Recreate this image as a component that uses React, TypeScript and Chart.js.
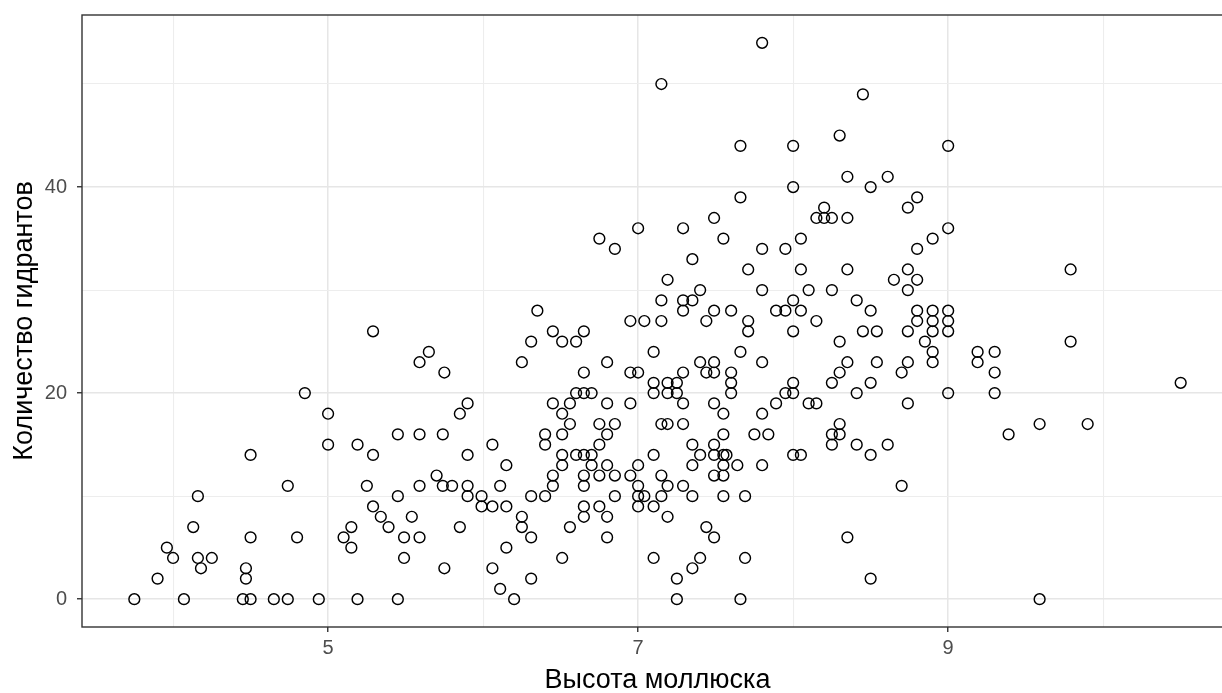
import React, { useEffect, useRef } from "react";
import { Chart, registerables } from "chart.js";

Chart.register(...registerables);

// Mollusc height (x) and number of hydranths (y)
const heights = [
  3.75, 3.9, 3.96, 4.0, 4.07, 4.13, 4.16, 4.16, 4.18, 4.25,
  4.45, 4.47, 4.47, 4.5, 4.5, 4.5, 4.65, 4.74, 4.74, 4.8,
  4.85, 4.94, 5.0, 5.0, 5.1, 5.15, 5.15, 5.19, 5.19, 5.25,
  5.29, 5.29, 5.29, 5.34, 5.39, 5.45, 5.45, 5.45, 5.49, 5.49,
  5.54, 5.59, 5.59, 5.59, 5.59, 5.65, 5.7, 5.74, 5.74, 5.75,
  5.75, 5.8, 5.85, 5.85, 5.9, 5.9, 5.9, 5.9, 5.99, 5.99,
  6.06, 6.06, 6.06, 6.11, 6.11, 6.15, 6.15, 6.15, 6.2, 6.25,
  6.25, 6.25, 6.31, 6.31, 6.31, 6.31, 6.35, 6.4, 6.4, 6.4,
  6.45, 6.45, 6.45, 6.45, 6.51, 6.51, 6.51, 6.51, 6.51, 6.51,
  6.56, 6.56, 6.56, 6.6, 6.6, 6.6, 6.65, 6.65, 6.65, 6.65,
  6.65, 6.65, 6.65, 6.65, 6.7, 6.7, 6.7, 6.75, 6.75, 6.75,
  6.75, 6.75, 6.8, 6.8, 6.8, 6.8, 6.8, 6.8, 6.85, 6.85,
  6.85, 6.85, 6.95, 6.95, 6.95, 6.95, 7.0, 7.0, 7.0, 7.0,
  7.0, 7.0, 7.04, 7.04, 7.1, 7.1, 7.1, 7.1, 7.1, 7.1,
  7.15, 7.15, 7.15, 7.15, 7.15, 7.15, 7.19, 7.19, 7.19, 7.19,
  7.19, 7.19, 7.25, 7.25, 7.25, 7.25, 7.29, 7.29, 7.29, 7.29,
  7.29, 7.29, 7.29, 7.35, 7.35, 7.35, 7.35, 7.35, 7.35, 7.4,
  7.4, 7.4, 7.4, 7.44, 7.44, 7.44, 7.49, 7.49, 7.49, 7.49,
  7.49, 7.49, 7.49, 7.49, 7.49, 7.55, 7.55, 7.55, 7.55, 7.57,
  7.55, 7.55, 7.55, 7.6, 7.6, 7.6, 7.6, 7.64, 7.66, 7.66,
  7.66, 7.66, 7.69, 7.69, 7.71, 7.71, 7.71, 7.75, 7.8, 7.8,
  7.8, 7.8, 7.8, 7.8, 7.84, 7.89, 7.89, 7.95, 7.95, 7.95,
  8.0, 8.0, 8.0, 8.0, 8.0, 8.0, 8.0, 8.05, 8.05, 8.05,
  8.05, 8.1, 8.1, 8.15, 8.15, 8.15, 8.2, 8.2, 8.25, 8.25,
  8.25, 8.25, 8.25, 8.3, 8.3, 8.3, 8.3, 8.3, 8.35, 8.35,
  8.35, 8.35, 8.35, 8.41, 8.41, 8.41, 8.45, 8.45, 8.5, 8.5,
  8.5, 8.5, 8.5, 8.54, 8.54, 8.61, 8.61, 8.65, 8.7, 8.7,
  8.74, 8.74, 8.74, 8.74, 8.74, 8.74, 8.8, 8.8, 8.8, 8.8,
  8.8, 8.85, 8.9, 8.9, 8.9, 8.9, 8.9, 8.9, 9.0, 9.0,
  9.0, 9.0, 9.0, 9.0, 9.19, 9.19, 9.3, 9.3, 9.3, 9.39,
  9.59, 9.59, 9.79, 9.79, 9.9, 10.5,
];

const hydrants = [
  0, 2, 5, 4, 0, 7, 10, 4, 3, 4,
  0, 3, 2, 0, 14, 6, 0, 0, 11, 6,
  20, 0, 18, 15, 6, 7, 5, 0, 15, 11,
  26, 14, 9, 8, 7, 0, 10, 16, 4, 6,
  8, 6, 11, 16, 23, 24, 12, 16, 11, 3,
  22, 11, 18, 7, 19, 14, 11, 10, 10, 9,
  15, 9, 3, 11, 1, 13, 9, 5, 0, 23,
  8, 7, 25, 10, 6, 2, 28, 10, 16, 15,
  26, 19, 12, 11, 25, 18, 16, 14, 13, 4,
  19, 17, 7, 25, 20, 14, 26, 22, 20, 14,
  12, 11, 9, 8, 20, 14, 13, 35, 17, 15,
  12, 9, 23, 19, 16, 13, 8, 6, 34, 17,
  12, 10, 27, 22, 19, 12, 36, 22, 13, 11,
  10, 9, 27, 10, 24, 21, 20, 14, 9, 4,
  50, 29, 27, 17, 12, 10, 31, 21, 20, 17,
  11, 8, 21, 20, 2, 0, 36, 29, 28, 22,
  19, 17, 11, 33, 29, 15, 13, 10, 3, 30,
  23, 14, 4, 27, 22, 7, 37, 28, 23, 22,
  19, 15, 14, 12, 6, 35, 18, 16, 14, 14,
  13, 12, 10, 28, 22, 21, 20, 13, 44, 39,
  24, 0, 10, 4, 32, 27, 26, 16, 54, 34,
  30, 23, 18, 13, 16, 28, 19, 34, 28, 20,
  44, 40, 29, 26, 21, 20, 14, 35, 32, 28,
  14, 30, 19, 37, 27, 19, 38, 37, 37, 30,
  21, 16, 15, 45, 25, 22, 17, 16, 41, 37,
  32, 23, 6, 29, 20, 15, 49, 26, 40, 28,
  21, 14, 2, 26, 23, 41, 15, 31, 22, 11,
  38, 32, 30, 26, 23, 19, 39, 34, 31, 28,
  27, 25, 35, 28, 27, 26, 24, 23, 44, 36,
  28, 27, 26, 20, 24, 23, 24, 22, 20, 16,
  17, 0, 32, 25, 17, 21,
];

const xGridTicks = [4, 5, 6, 7, 8, 9, 10];
const xLabelTicks = [5, 7, 9];
const yGridTicks = [0, 10, 20, 30, 40, 50];
const yLabelTicks = [0, 20, 40];
const xLimits = [3.4125, 10.8375];
const yLimits = [-2.7, 56.7];
const xTitle = "Высота моллюска";
const yTitle = "Количество гидрантов";

const FONT = "'Liberation Sans', Arial, sans-serif";
const CANVAS_W = 1234;
const CANVAS_H = 693;

export default function App() {
  const ref = useRef<HTMLCanvasElement | null>(null);

  useEffect(() => {
    const canvas = ref.current;
    if (!canvas) return;
    const points = heights.map((x, i) => ({ x, y: hydrants[i] }));

    const panelBorder = {
      id: "panelBorder",
      afterDatasetsDraw(chart: any) {
        const { ctx, chartArea: a } = chart;
        ctx.save();
        ctx.strokeStyle = "#333333";
        ctx.lineWidth = 1.4;
        ctx.strokeRect(a.left, a.top, a.right - a.left, a.bottom - a.top);
        ctx.restore();
      },
    };

    const gridFor = (labels: number[]) => ({
      color: (c: any) =>
        c.tick && labels.includes(c.tick.value) ? "#E6E6E6" : "#EDEDED",
      lineWidth: (c: any) =>
        c.tick && labels.includes(c.tick.value) ? 1.5 : 1.1,
      tickLength: 5,
      tickWidth: 1.4,
      tickColor: (c: any) =>
        c.tick && labels.includes(c.tick.value) ? "#333333" : "rgba(0,0,0,0)",
      drawTicks: true,
    });

    const zeroPadding = (s: any) => {
      s.paddingTop = 0;
      s.paddingBottom = 0;
      s.paddingLeft = 0;
      s.paddingRight = 0;
    };

    const chart = new Chart(canvas, {
      type: "scatter",
      data: {
        datasets: [
          {
            data: points,
            pointRadius: 5.4,
            pointHoverRadius: 5.4,
            pointBorderColor: "#000000",
            pointBackgroundColor: "rgba(0,0,0,0)",
            pointBorderWidth: 1.45,
            showLine: false,
          },
        ],
      },
      options: {
        responsive: false,
        animation: false,
        devicePixelRatio: 1,
        events: [],
        layout: {
          autoPadding: false,
          padding: { top: 15, right: 1, left: 0, bottom: 0 },
        },
        plugins: { legend: { display: false }, tooltip: { enabled: false } },
        scales: {
          x: {
            type: "linear",
            min: xLimits[0],
            max: xLimits[1],
            afterBuildTicks: (s: any) => {
              s.ticks = xGridTicks.map((v) => ({ value: v }));
            },
            afterFit: (s: any) => {
              s.height = 66;
              zeroPadding(s);
            },
            grid: gridFor(xLabelTicks),
            border: { display: false },
            ticks: {
              autoSkip: false,
              maxRotation: 0,
              padding: 4,
              color: "#4D4D4D",
              font: { family: FONT, size: 20 },
              callback: (v: any) => (xLabelTicks.includes(v) ? String(v) : ""),
            },
            title: {
              display: true,
              text: xTitle,
              color: "#000000",
              font: { family: FONT, size: 27, lineHeight: 0.8 },
              padding: { top: 0, bottom: 1.5 },
            },
          },
          y: {
            type: "linear",
            min: yLimits[0],
            max: yLimits[1],
            afterBuildTicks: (s: any) => {
              s.ticks = yGridTicks.map((v) => ({ value: v }));
            },
            afterFit: (s: any) => {
              s.width = 82;
              zeroPadding(s);
            },
            grid: gridFor(yLabelTicks),
            border: { display: false },
            ticks: {
              autoSkip: false,
              padding: 10,
              color: "#4D4D4D",
              font: { family: FONT, size: 20 },
              callback: (v: any) => (yLabelTicks.includes(v) ? String(v) : ""),
            },
            title: {
              display: true,
              text: yTitle,
              color: "#000000",
              font: { family: FONT, size: 27, lineHeight: 0.8 },
              padding: { top: 14, bottom: 0 },
            },
          },
        },
      },
      plugins: [panelBorder],
    } as any);

    return () => chart.destroy();
  }, []);

  return (
    <div
      style={{
        position: "fixed",
        left: 0,
        top: 0,
        width: 1222,
        height: 693,
        overflow: "hidden",
        background: "#ffffff",
      }}
    >
      <canvas
        ref={ref}
        width={CANVAS_W}
        height={CANVAS_H}
        style={{ display: "block", width: CANVAS_W, height: CANVAS_H }}
      />
    </div>
  );
}
